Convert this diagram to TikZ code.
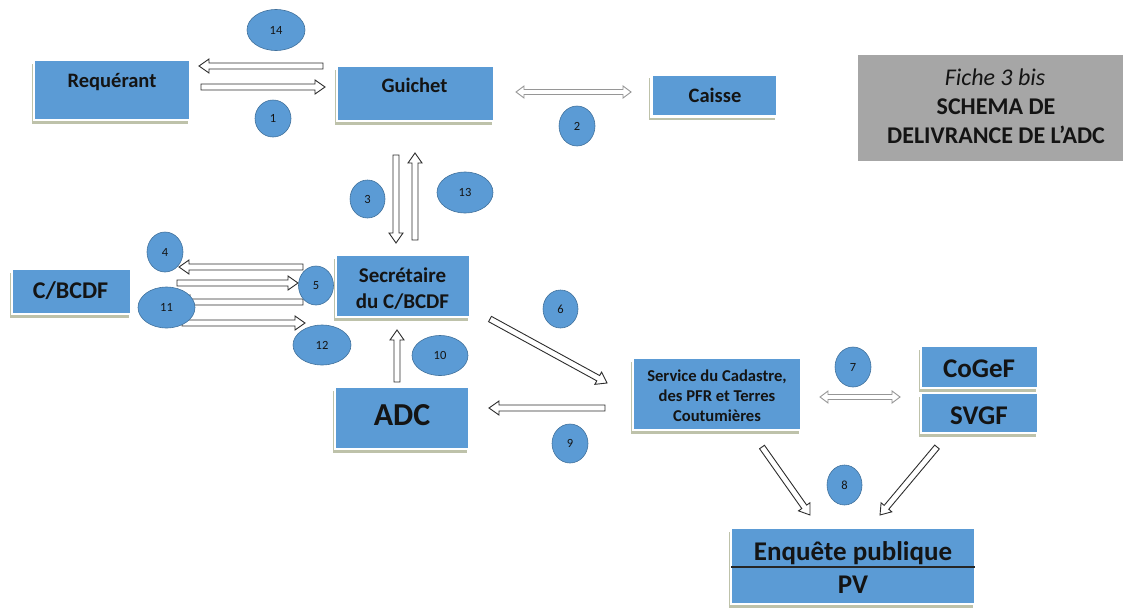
\documentclass[tikz,border=0pt]{standalone}
\usepackage{fontspec}
\setmainfont{Carlito}
\usetikzlibrary{calc,shadows,shapes.geometric}
\definecolor{boxblue}{HTML}{5B9BD5}
\definecolor{ellline}{HTML}{41719C}
\definecolor{shadowc}{RGB}{190,194,170}
\definecolor{titlegray}{HTML}{A6A6A6}
\definecolor{arrline}{RGB}{45,45,45}
\definecolor{arrlight}{RGB}{150,150,150}
\definecolor{txtc}{RGB}{20,20,20}
\newcommand\fsb[1]{\fontsize{#1}{#1}\selectfont\bfseries}
\newcommand\fsr[1]{\fontsize{#1}{#1}\selectfont}
\tikzset{
  box/.style={rectangle, fill=boxblue, draw=white, line width=2.5pt, inner sep=0pt,
    drop shadow={shadow xshift=-2.5pt, shadow yshift=-3.5pt, fill=shadowc, opacity=1}},
  lbl/.style={anchor=base, inner sep=0pt, text=txtc},
  num/.style={ellipse, fill=boxblue, draw=ellline, line width=0.6pt, inner sep=0pt, text=txtc,
    font=\fsr{12.5}},
  arrowbase/.style={fill=white, line width=0.9pt, line join=miter},
  blk/.style={arrowbase, draw=arrline, to path={
    let \p1=(\tikztostart), \p2=(\tikztotarget),
        \n1={atan2(\y2-\y1,\x2-\x1)}, \n2={veclen(\x2-\x1,\y2-\y1)}, \n3={\n2-10pt} in
    {[shift={(\p1)}, rotate=\n1]
     (0pt,-3pt) -- (\n3,-3pt) -- (\n3,-7pt) -- (\n2,0pt) -- (\n3,7pt) -- (\n3,3pt) -- (0pt,3pt) -- cycle}}},
  dblk/.style={arrowbase, draw=arrlight, to path={
    let \p1=(\tikztostart), \p2=(\tikztotarget),
        \n1={atan2(\y2-\y1,\x2-\x1)}, \n2={veclen(\x2-\x1,\y2-\y1)}, \n3={\n2-8pt} in
    {[shift={(\p1)}, rotate=\n1]
     (0pt,0pt) -- (8pt,6pt) -- (8pt,2.5pt) -- (\n3,2.5pt) -- (\n3,6pt) -- (\n2,0pt) -- (\n3,-6pt) -- (\n3,-2.5pt) -- (8pt,-2.5pt) -- (8pt,-6pt) -- cycle}}},
}
\begin{document}
\begin{tikzpicture}[x=1pt,y=-1pt]
\useasboundingbox (0,0) rectangle (1123,608);
% boxes
\node[box, minimum width=156pt, minimum height=60pt] (r) at (112,90) {};
\node[box, minimum width=157pt, minimum height=55pt] (g) at (415.5,93.5) {};
\node[box, minimum width=126pt, minimum height=42pt] (c) at (714.5,95.5) {};
\node[rectangle, fill=titlegray, inner sep=0pt, minimum width=265pt, minimum height=106pt] (t) at (990.5,108) {};
\node[box, minimum width=119pt, minimum height=45pt] (cb) at (71.5,291.5) {};
\node[box, minimum width=134pt, minimum height=62pt] (s) at (403,286) {};
\node[box, minimum width=134pt, minimum height=62pt] (adc) at (402,418) {};
\node[box, minimum width=168pt, minimum height=72pt] (sv) at (717,394) {};
\node[box, minimum width=117pt, minimum height=42pt] (cog) at (979.5,367) {};
\node[box, minimum width=117pt, minimum height=40pt] (svg) at (979.5,413) {};
\node[box, minimum width=244pt, minimum height=76pt] (e) at (853,566) {};
\draw[line width=1.8pt, black!85, shorten <=1.2pt, shorten >=1.2pt] ([yshift=-1pt]e.west) -- ([yshift=-1pt]e.east);
% arrow end points
\coordinate (a14s) at (323,66);  \coordinate (a14e) at (199,66);
\coordinate (a1s) at (201,87);   \coordinate (a1e) at (325,87);
\coordinate (a2s) at (516,92);   \coordinate (a2e) at (631,92);
\coordinate (a3s) at (396,155);  \coordinate (a3e) at (396,243);
\coordinate (a13s) at (415,240); \coordinate (a13e) at (415,153);
\coordinate (a4s) at (303,267);  \coordinate (a4e) at (179,267);
\coordinate (a5s) at (177,283);  \coordinate (a5e) at (298,283);
\coordinate (a11s) at (303,302); \coordinate (a11e) at (180,302);
\coordinate (a12s) at (182,323); \coordinate (a12e) at (305,323);
\coordinate (a10s) at (397,382); \coordinate (a10e) at (397,330);
\coordinate (a6s) at (490,319);  \coordinate (a6e) at (607,383);
\coordinate (a9s) at (605,408);  \coordinate (a9e) at (489,408);
\coordinate (a7s) at (820,397);  \coordinate (a7e) at (900,397);
\coordinate (a8ls) at (762,447); \coordinate (a8le) at (810,515);
\coordinate (a8rs) at (937,447); \coordinate (a8re) at (880,515);
% arrows
\draw[blk] (a14s) to (a14e);
\draw[blk] (a1s) to (a1e);
\draw[dblk] (a2s) to (a2e);
\draw[blk] (a3s) to (a3e);
\draw[blk] (a13s) to (a13e);
\draw[blk] (a4s) to (a4e);
\draw[blk] (a5s) to (a5e);
\draw[blk] (a11s) to (a11e);
\draw[blk] (a12s) to (a12e);
\draw[blk] (a10s) to (a10e);
\draw[blk] (a6s) to (a6e);
\draw[blk] (a9s) to (a9e);
\draw[dblk] (a7s) to (a7e);
\draw[blk] (a8ls) to (a8le);
\draw[blk] (a8rs) to (a8re);
% number ellipses
\node[num, minimum width=58pt, minimum height=41pt] (n14) at (276,30) {14};
\node[num, minimum width=36pt, minimum height=37pt] (n1) at (273,118.5) {1};
\node[num, minimum width=36pt, minimum height=40pt] (n2) at (577,126) {2};
\node[num, minimum width=35pt, minimum height=38pt] (n3) at (367.5,199) {3};
\node[num, minimum width=56pt, minimum height=41pt] (n13) at (465,192.5) {13};
\node[num, minimum width=36pt, minimum height=40pt] (n4) at (165,252) {4};
\node[num, minimum width=35pt, minimum height=39pt] (n5) at (316,285.5) {5};
\node[num, minimum width=57pt, minimum height=41pt] (n11) at (166.5,307.5) {11};
\node[num, minimum width=58pt, minimum height=40pt] (n12) at (322,345) {12};
\node[num, minimum width=56pt, minimum height=40pt] (n10) at (440,355.5) {10};
\node[num, minimum width=35pt, minimum height=38pt] (n6) at (560.5,309) {6};
\node[num, minimum width=36pt, minimum height=39pt] (n9) at (570,443.5) {9};
\node[num, minimum width=36pt, minimum height=40pt] (n7) at (853,367) {7};
\node[num, minimum width=35pt, minimum height=40pt] (n8) at (844.5,485) {8};
% texts
\node[lbl, font=\fsb{20.5}] (rt) at (112,87) {Requérant};
\node[lbl, font=\fsb{20.5}] (gt) at (414.5,92) {Guichet};
\node[lbl, font=\fsb{20.5}] (ct) at (715,102) {Caisse};
\node[lbl, font=\fsr{24}\itshape] (t1) at (995,85) {Fiche 3 bis};
\node[lbl, font=\fsb{24}] (t2) at (996,114) {SCHEMA DE};
\node[lbl, font=\fsb{24}] (t3) at (996,143) {DELIVRANCE DE L’ADC};
\node[lbl, font=\fsb{24}] (cbt) at (70.5,298) {C/BCDF};
\node[lbl, font=\fsb{21}] (st1) at (402.5,282) {Secrétaire};
\node[lbl, font=\fsb{21}] (st2) at (402.5,308) {du C/BCDF};
\node[lbl, font=\fsb{32}] (adct) at (402,425) {ADC};
\node[lbl, font=\fsb{16.6}] (svt1) at (717,381) {Service du Cadastre,};
\node[lbl, font=\fsb{16.6}] (svt2) at (717,401) {des PFR et Terres};
\node[lbl, font=\fsb{16.6}] (svt3) at (717,421) {Coutumières};
\node[lbl, font=\fsb{27}] (cogt) at (979,377) {CoGeF};
\node[lbl, font=\fsb{27}] (svgt) at (979,424) {SVGF};
\node[lbl, font=\fsb{27}] (et1) at (853,560) {Enquête publique};
\node[lbl, font=\fsb{27}] (et2) at (853,593) {PV};
\end{tikzpicture}
\end{document}
